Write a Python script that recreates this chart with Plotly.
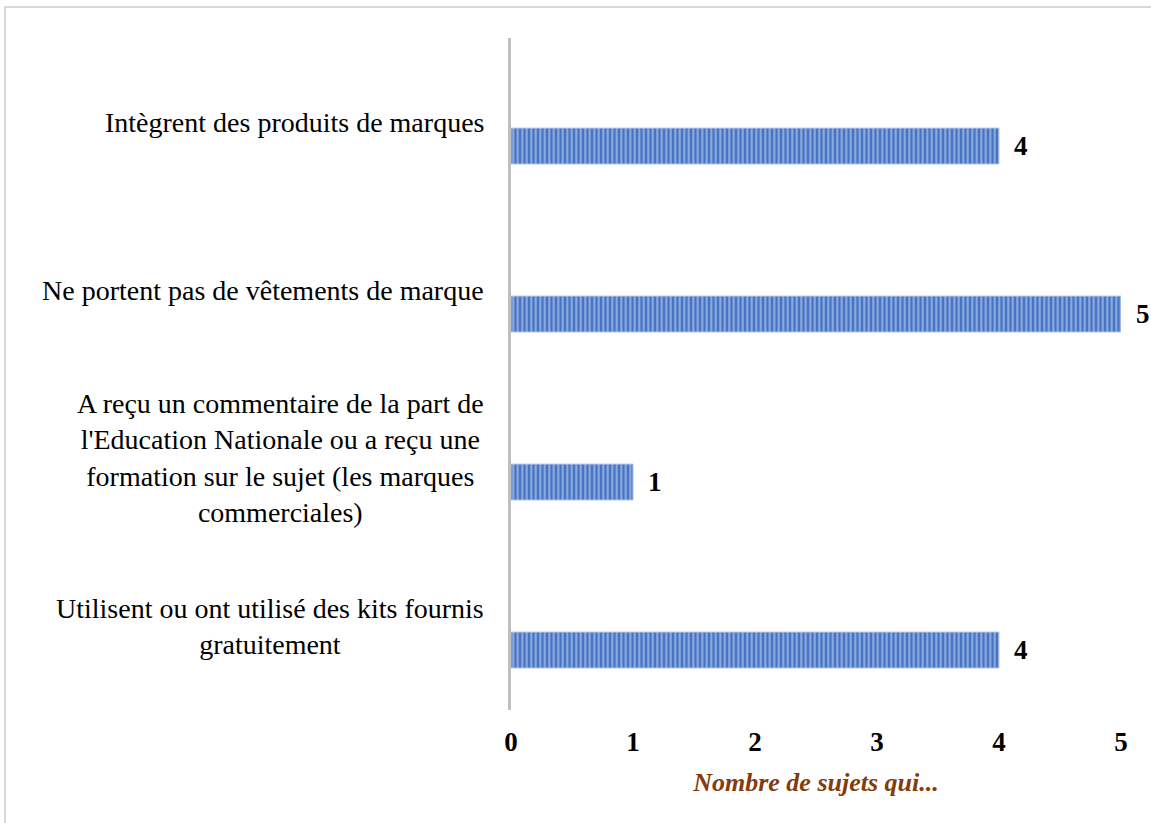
import plotly.graph_objects as go

categories = [
    "Utilisent ou ont utilisé des kits fournis<br>gratuitement",
    "A reçu un commentaire de la part de<br>l'Education Nationale ou a reçu une<br>formation sur le sujet (les marques<br>commerciales)",
    "Ne portent pas de vêtements de marque",
    "Intègrent des produits de marques",
]
values = [4, 1, 5, 4]
x_ticks = [0, 1, 2, 3, 4, 5]
axis_title = "Nombre de sujets qui..."

positions = list(range(len(categories)))
SERIF = "Liberation Serif, Times New Roman, serif"

fig = go.Figure()
fig.add_trace(go.Bar(
    x=values,
    y=positions,
    orientation="h",
    width=0.214,
    offset=-0.25,
    marker=dict(
        color="#4472C4",
        line=dict(color="#B4C7EA", width=1),
        pattern=dict(shape="|", fillmode="overlay", fgcolor="#E2E9F7", size=4.5, solidity=0.45),
    ),
    hoverinfo="x+y",
))

annotations = []
for p, c in zip(positions, categories):
    annotations.append(dict(
        x=0, y=p, xref="paper", yref="y", text=c, showarrow=False,
        xanchor="right", yanchor="middle", align="center", xshift=-25,
        font=dict(family=SERIF, size=28, color="black"),
    ))
for p, v in zip(positions, values):
    annotations.append(dict(
        x=v, y=p - 0.143, xref="x", yref="y", text=f"<b>{v}</b>", showarrow=False,
        xanchor="left", yanchor="middle", xshift=13,
        font=dict(family=SERIF, size=27, color="black"),
    ))

fig.update_layout(
    width=1151, height=823,
    margin=dict(l=511, r=30, t=38, b=113),
    paper_bgcolor="white", plot_bgcolor="white",
    showlegend=False,
    annotations=annotations,
    shapes=[dict(
        type="rect", xref="paper", yref="paper",
        x0=(5 - 511) / 610, x1=(1160 - 511) / 610,
        y0=(710 - 840) / 672, y1=(710 - 7) / 672,
        line=dict(color="#D9D9D9", width=2), fillcolor="rgba(0,0,0,0)", layer="below",
    )],
    xaxis=dict(
        range=[0, 5], tickvals=x_ticks, ticktext=[f"<b>{t}</b>" for t in x_ticks],
        showgrid=False, zeroline=False, showline=False,
        ticks="outside", ticklen=8, tickcolor="rgba(0,0,0,0)",
        tickfont=dict(family=SERIF, size=27, color="black"),
        title=dict(text=f"<b><i>{axis_title}</i></b>", standoff=16,
                   font=dict(family=SERIF, size=26, color="#843C0C")),
    ),
    yaxis=dict(
        range=[-0.5, 3.5], tickvals=positions, showticklabels=False,
        showgrid=False, zeroline=False,
        showline=True, linecolor="#BFBFBF", linewidth=3,
    ),
)

fig.write_html(
    "out.html",
    config={"displayModeBar": False},
    post_script="document.body.style.margin='0';document.body.style.overflow='hidden';",
)
